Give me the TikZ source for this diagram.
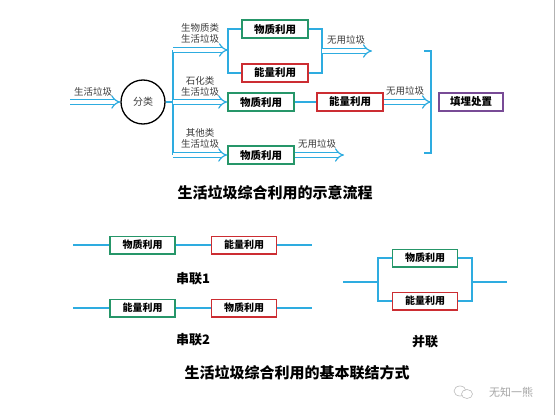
\documentclass[tikz,border=0pt]{standalone}
\usepackage{fontspec}
\setmainfont{Noto Sans CJK SC}
\usetikzlibrary{arrows.meta}
\definecolor{lb}{RGB}{46,172,224}
\definecolor{gc}{RGB}{38,150,105}
\definecolor{rc}{RGB}{204,45,50}
\definecolor{pc}{RGB}{120,75,150}
\definecolor{labc}{RGB}{60,60,60}
\tikzset{
  conn/.style={draw=lb, line width=1.4pt},
  flow/.style={draw=lb, double=white, line width=1.2pt, double distance=3.4pt, -{Implies}},
  boxbase/.style={line width=1.5pt, fill=white, minimum width=66pt, minimum height=18pt, inner sep=0pt, font=\bfseries\fontsize{10.5}{11}\selectfont},
  gbox/.style={boxbase, draw=gc},
  rbox/.style={boxbase, draw=rc},
  pbox/.style={boxbase, draw=pc, minimum width=64pt},
  sbox/.style={font=\bfseries\fontsize{10}{11}\selectfont, minimum width=65pt, minimum height=17.5pt},
  lab/.style={font=\fontsize{9.5}{11}\selectfont, text=labc, align=center, inner sep=0pt},
  ttl/.style={font=\bfseries\fontsize{15}{16}\selectfont, inner sep=0pt},
  sub/.style={font=\bfseries\fontsize{13}{14}\selectfont, inner sep=0pt}
}
\begin{document}
\begin{tikzpicture}[x=1pt,y=-1pt]
\useasboundingbox[fill=white] (0,0) rectangle (556,415);
% upper flow
\coordinate (in0) at (70,102);
\node[draw=black, line width=1.3pt, circle, minimum size=44pt, inner sep=0pt, font=\fontsize{10}{11}\selectfont, text=labc] (cls) at (143,102) {分类};
\draw[flow] (in0) -- (cls.west);
\node[lab] (l0) at (93,92) {生活垃圾};
\coordinate (br) at (173,102);
\coordinate (bt) at (173,50);
\coordinate (bb) at (173,155);
\draw[conn] (cls.east) -- (br);
\draw[conn] (bt) -- (bb);
% top branch
\coordinate (j1) at (228,50);
\node[gbox] (m1) at (275,29) {物质利用};
\node[rbox] (e1) at (275,73) {能量利用};
\draw[flow] (bt) -- (j1);
\draw[conn] (m1.west) -| (j1) |- (e1.west);
\node[lab] (l1) at (200,33) {生物质类\\生活垃圾};
\coordinate (j2) at (322,51);
\coordinate (w1) at (372,51);
\draw[conn] (m1.east) -| (j2) |- (e1.east);
\draw[flow] (j2) -- (w1);
\node[lab] (l2) at (346,40) {无用垃圾};
% middle branch
\node[gbox] (m2) at (261,102) {物质利用};
\node[rbox] (e2) at (350,102) {能量利用};
\draw[flow] (br) -- (m2.west);
\node[lab] (l3) at (200,86) {石化类\\生活垃圾};
\draw[conn] (m2.east) -- (e2.west);
\coordinate (bk1) at (424,51);
\coordinate (bk2) at (431,51);
\coordinate (bk3) at (431,153);
\coordinate (bk4) at (424,153);
\coordinate (bkm) at (431,102);
\draw[conn] (bk1) -- (bk2) -- (bk3) -- (bk4);
\draw[flow] (e2.east) -- (bkm);
\node[lab] (l4) at (405,91) {无用垃圾};
\node[pbox] (lf) at (471,102) {填埋处置};
% bottom branch
\node[gbox] (m3) at (261,155) {物质利用};
\draw[flow] (bb) -- (m3.west);
\node[lab] (l5) at (200,138) {其他类\\生活垃圾};
\coordinate (w3) at (344,155);
\draw[flow] (m3.east) -- (w3);
\node[lab] (l6) at (317,144) {无用垃圾};
\node[ttl] (t1) at (275,193) {生活垃圾综合利用的示意流程};
% series 1
\coordinate (a1) at (73,245);
\coordinate (a2) at (312,245);
\node[gbox, sbox] (s1m) at (142.5,245) {物质利用};
\node[rbox, sbox] (s1e) at (244,245) {能量利用};
\draw[conn] (a1) -- (s1m.west);
\draw[conn] (s1m.east) -- (s1e.west);
\draw[conn] (s1e.east) -- (a2);
\node[sub] (c1) at (193,279) {串联1};
% series 2
\coordinate (b1) at (73,308);
\coordinate (b2) at (312,308);
\node[gbox, sbox] (s2e) at (142.5,308) {能量利用};
\node[rbox, sbox] (s2m) at (244,308) {物质利用};
\draw[conn] (b1) -- (s2e.west);
\draw[conn] (s2e.east) -- (s2m.west);
\draw[conn] (s2m.east) -- (b2);
\node[sub] (c2) at (193,340) {串联2};
% parallel
\coordinate (p0) at (343,282);
\coordinate (pj1) at (378,282);
\coordinate (pj2) at (472,282);
\coordinate (p3) at (507,282);
\node[gbox, sbox] (pm) at (425,258) {物质利用};
\node[rbox, sbox] (pe) at (425,301) {能量利用};
\draw[conn] (p0) -- (pj1);
\draw[conn] (pm.west) -| (pj1) |- (pe.west);
\draw[conn] (pm.east) -| (pj2) |- (pe.east);
\draw[conn] (pj2) -- (p3);
\node[sub] (c3) at (425,342) {并联};
\node[ttl] (t2) at (297,373) {生活垃圾综合利用的基本联结方式};
% watermark
\draw[gray!55, line width=0.6pt] (460,391) ellipse (6pt and 5pt);
\draw[gray!55, line width=0.6pt, fill=white] (467,394) ellipse (5.5pt and 4.5pt);
\node[font=\fontsize{11}{12}\selectfont, text=gray!70, inner sep=0pt] (wm) at (511,392) {无知一熊};
\draw[gray!60, line width=0.8pt] (554,0) -- (554,415);
\end{tikzpicture}
\end{document}
